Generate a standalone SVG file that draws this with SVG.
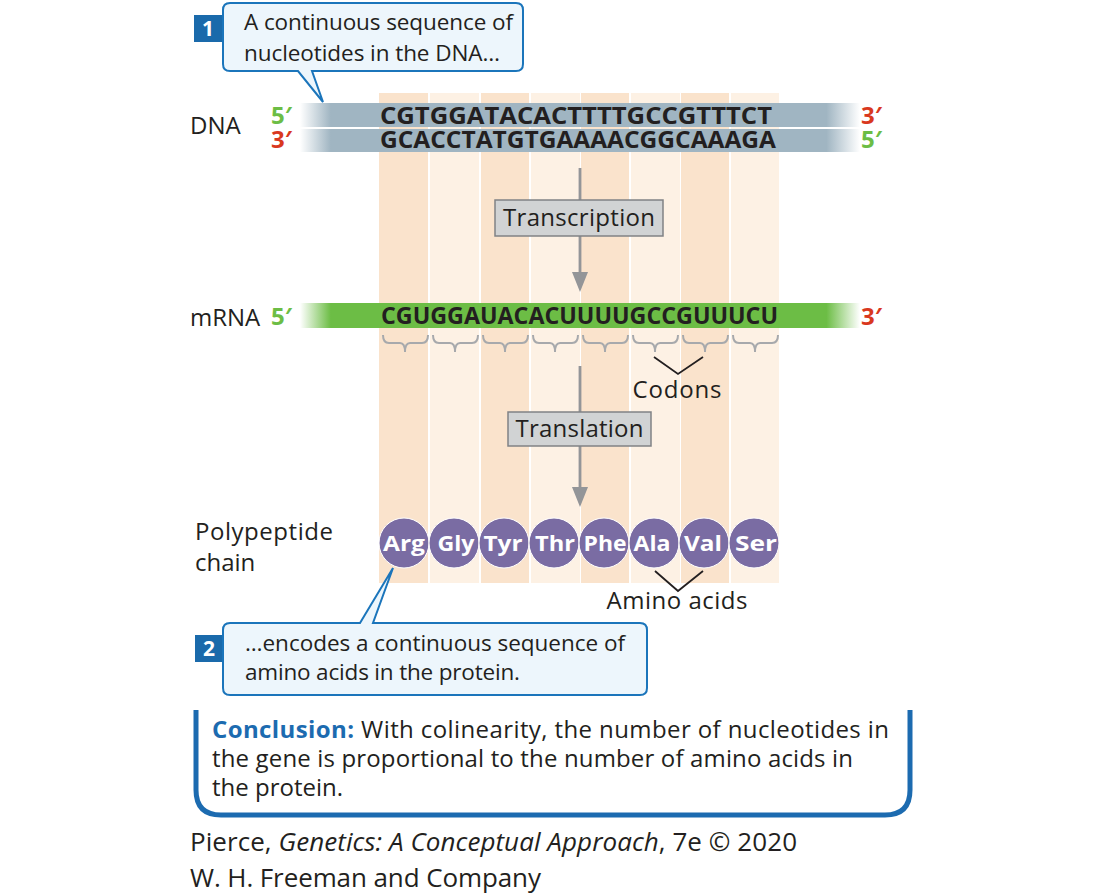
<svg xmlns="http://www.w3.org/2000/svg" width="1100" height="896" viewBox="0 0 1100 896">
<style>
text{font-family:"Open Sans","Liberation Sans",sans-serif;fill:#231f20}
.lbl{font-size:24px}
.seq{font-size:24px;font-weight:bold}
.p5{font-size:24px;font-weight:bold;fill:#6cbd45}
.p3{font-size:24px;font-weight:bold;fill:#d9381e}
.dk{fill:#fae3cc}
.lt{fill:#fdf1e4}
.gbox{fill:#d1d3d4;stroke:#808285;stroke-width:1.5}
.arr{stroke:#939598;stroke-width:2.8;fill:none}
.ah{fill:#939598}
.brace{stroke:#a7a9ac;stroke-width:2;fill:none}
.vline{stroke:#231f20;stroke-width:1.8;fill:none}
.aa{fill:#7a6ca3;stroke:#ffffff;stroke-width:1}
.aat{font-size:22px;font-weight:bold;fill:#ffffff;text-anchor:middle}
.call{fill:#edf6fc;stroke:#1b75bb;stroke-width:2}
.badge{fill:#1a6aab}
.badget{font-size:21px;font-weight:bold;fill:#ffffff;text-anchor:middle}
.ctext{font-size:24px}
.cl{font-size:22.5px}
</style>
<defs>
<linearGradient id="fadeDNA" gradientUnits="userSpaceOnUse" x1="300" y1="0" x2="860" y2="0">
<stop offset="0" stop-color="#a0b5c2" stop-opacity="0"/>
<stop offset="0.055" stop-color="#a0b5c2" stop-opacity="1"/>
<stop offset="0.94" stop-color="#a0b5c2" stop-opacity="1"/>
<stop offset="1" stop-color="#a0b5c2" stop-opacity="0"/>
</linearGradient>
<linearGradient id="fadeRNA" gradientUnits="userSpaceOnUse" x1="300" y1="0" x2="860" y2="0">
<stop offset="0" stop-color="#6cbd45" stop-opacity="0"/>
<stop offset="0.055" stop-color="#6cbd45" stop-opacity="1"/>
<stop offset="0.94" stop-color="#6cbd45" stop-opacity="1"/>
<stop offset="1" stop-color="#6cbd45" stop-opacity="0"/>
</linearGradient>
</defs>

<g id="stripes">
<rect class="dk" x="379" y="93" width="49" height="490"/>
<rect class="lt" x="430" y="93" width="49" height="490"/>
<rect class="dk" x="481" y="93" width="48" height="490"/>
<rect class="lt" x="531" y="93" width="49" height="490"/>
<rect class="dk" x="581" y="93" width="48" height="490"/>
<rect class="lt" x="631" y="93" width="49" height="490"/>
<rect class="dk" x="681" y="93" width="48" height="490"/>
<rect class="lt" x="731" y="93" width="48" height="490"/>
</g>

<g id="dna">
<text class="lbl" x="190" y="134">DNA</text>
<rect x="300" y="103" width="560" height="24" fill="url(#fadeDNA)"/>
<rect x="300" y="129" width="560" height="23" fill="url(#fadeDNA)"/>
<text class="p5" x="271" y="124">5′</text>
<text class="p3" x="271" y="148">3′</text>
<text class="seq" x="380" y="124" textLength="392" lengthAdjust="spacingAndGlyphs">CGTGGATACACTTTTGCCGTTTCT</text>
<text class="seq" x="380" y="148" textLength="396" lengthAdjust="spacingAndGlyphs">GCACCTATGTGAAAACGGCAAAGA</text>
<text class="p3" x="861" y="124">3′</text>
<text class="p5" x="861" y="148">5′</text>
</g>

<g id="mrna">
<text class="lbl" x="190" y="326">mRNA</text>
<text class="p5" x="271" y="325">5′</text>
<rect x="300" y="303" width="560" height="25" fill="url(#fadeRNA)"/>
<text class="seq" x="381" y="324" font-size="25" textLength="397" lengthAdjust="spacingAndGlyphs">CGUGGAUACACUUUUGCCGUUUCU</text>
<text class="p3" x="861" y="325">3′</text>
</g>

<g id="braces">
<path class="brace" d="M383 335 Q383 343 389 343 H400 Q405 343 405 352 Q405 343 410 343 H422 Q428 343 428 335"/>
<path class="brace" d="M433 335 Q433 343 439 343 H450 Q455 343 455 352 Q455 343 460 343 H472 Q478 343 478 335"/>
<path class="brace" d="M483 335 Q483 343 489 343 H500 Q505 343 505 352 Q505 343 510 343 H522 Q528 343 528 335"/>
<path class="brace" d="M533 335 Q533 343 539 343 H550 Q555 343 555 352 Q555 343 560 343 H572 Q578 343 578 335"/>
<path class="brace" d="M583 335 Q583 343 589 343 H600 Q605 343 605 352 Q605 343 610 343 H622 Q628 343 628 335"/>
<path class="brace" d="M633 335 Q633 343 639 343 H650 Q655 343 655 352 Q655 343 660 343 H672 Q678 343 678 335"/>
<path class="brace" d="M683 335 Q683 343 689 343 H700 Q705 343 705 352 Q705 343 710 343 H722 Q728 343 728 335"/>
<path class="brace" d="M733 335 Q733 343 739 343 H750 Q755 343 755 352 Q755 343 760 343 H772 Q778 343 778 335"/>
</g>

<g id="connectors">
<line class="arr" x1="580" y1="168" x2="580" y2="276"/>
<polygon class="ah" points="572,272 588,272 580,292"/>
<line class="arr" x1="580" y1="366" x2="580" y2="490"/>
<polygon class="ah" points="572,487 588,487 580,507"/>
<polyline class="vline" points="654,357 678,374 703,357"/>
<polyline class="vline" points="655,571 678,591 703,571"/>
</g>

<g id="transcription">
<rect class="gbox" x="495" y="200" width="168" height="36"/>
<text class="lbl" x="579" y="226" text-anchor="middle" textLength="152">Transcription</text>
</g>

<g id="translation">
<rect class="gbox" x="508" y="412" width="143" height="34"/>
<text class="lbl" x="579.5" y="437" text-anchor="middle" textLength="128">Translation</text>
</g>

<g id="codons-label">
<text class="lbl" x="677" y="398" text-anchor="middle" textLength="89">Codons</text>
</g>

<g id="polypeptide">
<text class="lbl" x="195" y="540" textLength="138">Polypeptide</text>
<text class="lbl" x="195" y="571">chain</text>
<circle class="aa" cx="404" cy="543" r="25"/>
<circle class="aa" cx="454" cy="543" r="25"/>
<circle class="aa" cx="504" cy="543" r="25"/>
<circle class="aa" cx="554" cy="543" r="25"/>
<circle class="aa" cx="604" cy="543" r="25"/>
<circle class="aa" cx="654" cy="543" r="25"/>
<circle class="aa" cx="704" cy="543" r="25"/>
<circle class="aa" cx="754" cy="543" r="25"/>
<text class="aat" x="404" y="551" textLength="42" lengthAdjust="spacingAndGlyphs">Arg</text>
<text class="aat" x="456" y="551" textLength="37" lengthAdjust="spacingAndGlyphs">Gly</text>
<text class="aat" x="503" y="551" textLength="39" lengthAdjust="spacingAndGlyphs">Tyr</text>
<text class="aat" x="555" y="551" textLength="40" lengthAdjust="spacingAndGlyphs">Thr</text>
<text class="aat" x="605" y="551" textLength="43" lengthAdjust="spacingAndGlyphs">Phe</text>
<text class="aat" x="652" y="551" textLength="37" lengthAdjust="spacingAndGlyphs">Ala</text>
<text class="aat" x="703" y="551" textLength="38" lengthAdjust="spacingAndGlyphs">Val</text>
<text class="aat" x="756" y="551" textLength="42" lengthAdjust="spacingAndGlyphs">Ser</text>
</g>

<g id="amino-label">
<text class="lbl" x="677" y="609" text-anchor="middle" textLength="141">Amino acids</text>
</g>

<g id="callout1">
<rect class="badge" x="194" y="15" width="30" height="27"/>
<text class="badget" x="208" y="36">1</text>
<path class="call" d="M230 3 H516 Q523 3 523 10 V64 Q523 71 516 71 H312 L323 102 L298 71 H230 Q223 71 223 64 V10 Q223 3 230 3 Z"/>
<text class="cl" x="244" y="30" textLength="269">A continuous sequence of</text>
<text class="cl" x="244" y="61" textLength="256">nucleotides in the DNA…</text>
</g>

<g id="callout2">
<rect class="badge" x="195" y="635" width="30" height="27"/>
<text class="badget" x="209" y="656">2</text>
<path class="call" d="M230 623 H360 L393 568 L373 623 H640 Q647 623 647 630 V688 Q647 695 640 695 H230 Q223 695 223 688 V630 Q223 623 230 623 Z"/>
<text class="cl" x="245" y="651" textLength="380">…encodes a continuous sequence of</text>
<text class="cl" x="245" y="680" textLength="275">amino acids in the protein.</text>
</g>

<g id="conclusion">
<path d="M196 710 V790 Q196 815 221 815 H885 Q910 815 910 790 V710" fill="none" stroke="#1c6bb0" stroke-width="5"/>
<text class="ctext" x="212" y="738" textLength="677"><tspan font-weight="bold" fill="#1c6bb0">Conclusion:</tspan> With colinearity, the number of nucleotides in</text>
<text class="ctext" x="212" y="767" textLength="641">the gene is proportional to the number of amino acids in</text>
<text class="ctext" x="212" y="796">the protein.</text>
</g>

<g id="credit">
<text x="190" y="851" font-size="26" textLength="607">Pierce, <tspan font-style="italic">Genetics: A Conceptual Approach</tspan>, 7e © 2020</text>
<text x="190" y="887" font-size="26" textLength="351">W. H. Freeman and Company</text>
</g>
</svg>
